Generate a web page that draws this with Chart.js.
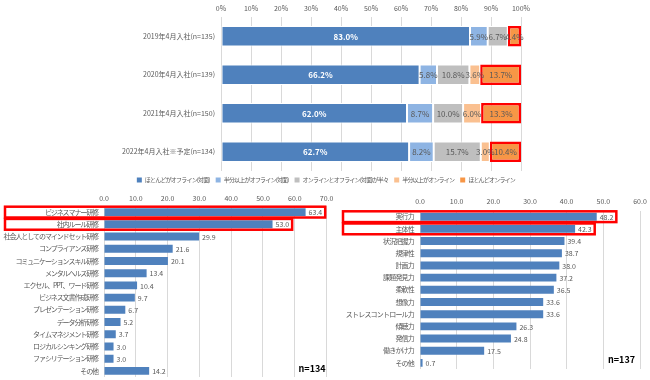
<!DOCTYPE html>
<html>
<head>
<meta charset="utf-8">
<script src="https://cdn.jsdelivr.net/npm/chart.js@4.4.1/dist/chart.umd.min.js"></script>
<style>
  body { margin: 0; background: #fff; }
  #wrap { position: relative; width: 650px; height: 380px; overflow: hidden; }
  canvas { position: absolute; }
</style>
</head>
<body>
<div id="wrap">
  <canvas id="styleChart" width="650" height="193" style="left:0;top:0;"></canvas>
  <canvas id="trainingChart" width="335" height="190" style="left:0;top:190px;"></canvas>
  <canvas id="skillChart" width="315" height="190" style="left:335px;top:190px;"></canvas>
</div>
<script>
// top: how training was held, by year of joining (%)
const years = ['2019年4月入社(n=135)', '2020年4月入社(n=139)', '2021年4月入社(n=150)', '2022年4月入社※予定(n=134)'];
const styleNames = ['ほとんどがオフライン(対面)', '半分以上がオフライン(対面)', 'オンラインとオフライン(対面)が半々', '半分以上がオンライン', 'ほとんどオンライン'];
const mostlyOffline = [83.0, 66.2, 62.0, 62.7];
const halfOffline = [5.9, 5.8, 8.7, 8.2];
const halfHalf = [6.7, 10.8, 10.0, 15.7];
const halfOnline = [0, 3.6, 6.0, 3.0];
const mostlyOnline = [4.4, 13.7, 13.3, 10.4];

// bottom left: training contents (%), n=134
const trainings = ['ビジネスマナー研修', '社内ルール研修', '社会人としてのマインドセット研修', 'コンプライアンス研修',
  'コミュニケーションスキル研修', 'メンタルヘルス研修', 'エクセル、PPT、ワード研修', 'ビジネス文書作成研修',
  'プレゼンテーション研修', 'データ分析研修', 'タイムマネジメント研修', 'ロジカルシンキング研修',
  'ファシリテーション研修', 'その他'];
const trainingValues = [63.4, 53.0, 29.9, 21.6, 20.1, 13.4, 10.4, 9.7, 6.7, 5.2, 3.7, 3.0, 3.0, 14.2];

// bottom right: skills (%), n=137
const skills = ['実行力', '主体性', '状況把握力', '規律性', '計画力', '課題発見力', '柔軟性', '想像力',
  'ストレスコントロール力', '傾聴力', '発信力', '働きかけ力', 'その他'];
const skillValues = [48.2, 42.3, 39.4, 38.7, 38.0, 37.2, 36.5, 33.6, 33.6, 26.3, 24.8, 17.5, 0.7];

const highlightRows = [0, 1];

const FONT = '"Noto Sans CJK JP", sans-serif';
const GREY = '#595959';
const GRID = '#d9d9d9';
Chart.defaults.font.family = FONT;
Chart.defaults.font.size = 7;
Chart.defaults.color = GREY;

// the original uses narrow kana, so squeeze some text a bit.
// anything on layer z=1 is drawn after the spacing is reset
const tightText = {
  id: 'tightText',
  beforeLayout(chart, args, opts) { chart.ctx.letterSpacing = opts.spacing; },
  beforeDraw(chart, args, opts) { chart.ctx.letterSpacing = opts.spacing; },
  beforeDatasetsDraw(chart) { chart.ctx.letterSpacing = '0px'; }
};

const segmentLabels = {
  id: 'segmentLabels',
  afterDatasetsDraw(chart) {
    const ctx = chart.ctx;
    ctx.save();
    ctx.textAlign = 'center';
    ctx.textBaseline = 'middle';
    chart.data.datasets.forEach((ds, i) => {
      chart.getDatasetMeta(i).data.forEach((bar, j) => {
        const v = ds.data[j];
        if (!v) return;
        ctx.fillStyle = i === 0 ? '#fff' : GREY;
        ctx.font = (i === 0 ? 'bold ' : '') + '8px ' + FONT;
        ctx.fillText(v.toFixed(1) + '%', (bar.x + bar.base) / 2, bar.y + 0.5);
      });
    });
    ctx.restore();
  }
};

const rowNotes = {
  id: 'rowNotes',
  afterDatasetsDraw(chart, args, opts) {
    const { ctx, chartArea, scales: { y } } = chart;
    const ds = chart.data.datasets[0];
    const meta = chart.getDatasetMeta(0);
    const step = y.height / chart.data.labels.length;
    ctx.save();
    ctx.font = '7px ' + FONT;
    ctx.fillStyle = GREY;
    ctx.textAlign = 'left';
    ctx.textBaseline = 'middle';
    meta.data.forEach((bar, j) => {
      ctx.fillText(ds.data[j].toFixed(1), bar.x + 3, bar.y + 0.5);
    });
    ctx.strokeStyle = '#ff0000';
    ctx.lineWidth = 2.5;
    opts.rows.forEach(r => {
      const bar = meta.data[r];
      const right = bar.x + 3 + ctx.measureText(ds.data[r].toFixed(1)).width + 3;
      ctx.strokeRect(opts.boxLeft, bar.y - step / 2 + 0.7, right - opts.boxLeft, step - 1.4);
    });
    ctx.font = 'bold 9px ' + FONT;
    ctx.fillStyle = '#000';
    ctx.textAlign = 'right';
    ctx.fillText(opts.note, chartArea.right - opts.noteDx, chartArea.bottom - opts.noteDy);
    ctx.restore();
  }
};

// fixed label column width; drop the half-label padding Chart.js adds top and bottom
function labelColumn(width) {
  return s => { s.width = width; s.paddingTop = 0; s.paddingBottom = 0; };
}

new Chart(document.getElementById('styleChart'), {
  type: 'bar',
  data: {
    labels: years,
    datasets: [
      { label: styleNames[0], data: mostlyOffline, backgroundColor: '#4f81bd', borderColor: '#fff', borderWidth: 1 },
      { label: styleNames[1], data: halfOffline, backgroundColor: '#8eb4e3', borderColor: '#fff', borderWidth: 1 },
      { label: styleNames[2], data: halfHalf, backgroundColor: '#bfbfbf', borderColor: '#fff', borderWidth: 1 },
      { label: styleNames[3], data: halfOnline, backgroundColor: '#fac090', borderColor: '#fff', borderWidth: 1 },
      { label: styleNames[4], data: mostlyOnline, backgroundColor: '#f79646', borderColor: '#ff0000', borderWidth: 2.5 }
    ]
  },
  options: {
    indexAxis: 'y',
    responsive: false,
    animation: false,
    layout: { padding: { top: 0, right: 129, left: 0, bottom: 0 } },
    datasets: { bar: { barPercentage: 0.53, categoryPercentage: 1, borderSkipped: false } },
    scales: {
      x: {
        stacked: true, position: 'top', min: 0, max: 100,
        ticks: { stepSize: 10, padding: 4.3, z: 1, callback: v => v + '%' },
        grid: { color: GRID, drawTicks: false },
        border: { display: false }
      },
      y: {
        stacked: true,
        ticks: { padding: 6, z: 1 },
        grid: { display: false, drawTicks: false },
        border: { display: false },
        afterFit: labelColumn(221)
      }
    },
    plugins: {
      legend: {
        position: 'bottom',
        align: 'end',
        labels: {
          boxWidth: 5, boxHeight: 5, padding: 6, font: { size: 6 },
          generateLabels: chart => chart.data.datasets.map((ds, i) => ({
            text: ds.label, fillStyle: ds.backgroundColor, strokeStyle: ds.backgroundColor,
            lineWidth: 0, fontColor: GREY, hidden: false, datasetIndex: i
          }))
        }
      },
      tooltip: { enabled: false },
      tightText: { spacing: '-0.8px' }
    }
  },
  plugins: [tightText, segmentLabels]
});

function rankChart(id, labels, values, max, pad, tickPad, plotLeft, box, note, dx, dy, spacing) {
  return new Chart(document.getElementById(id), {
    type: 'bar',
    data: {
      labels: labels,
      datasets: [{ data: values, backgroundColor: '#4f81bd', barPercentage: 0.65, categoryPercentage: 1 }]
    },
    options: {
      indexAxis: 'y',
      responsive: false,
      animation: false,
      layout: { padding: pad },
      scales: {
        x: {
          position: 'top', min: 0, max: max,
          ticks: { stepSize: 10, padding: tickPad, z: 1, callback: v => v.toFixed(1) },
          grid: { color: GRID, drawTicks: false },
          border: { display: false }
        },
        y: {
          ticks: { padding: 6 },
          grid: { display: false, drawTicks: false },
          border: { display: false },
          afterFit: labelColumn(plotLeft - pad.left)
        }
      },
      plugins: {
        legend: { display: false },
        tooltip: { enabled: false },
        tightText: { spacing: spacing },
        rowNotes: { rows: highlightRows, boxLeft: box, note: note, noteDx: dx, noteDy: dy }
      }
    },
    plugins: [tightText, rowNotes]
  });
}

rankChart('trainingChart', trainings, trainingValues, 70,
  { top: 0, right: 5, left: 0, bottom: 3 }, 3.8, 104, 5, 'n=134', 1, 8, '-1.1px');
rankChart('skillChart', skills, skillValues, 60,
  { top: 2.8, right: 10, left: 0, bottom: 11 }, 4.7, 85, 8, 'n=137', 5, 9, '-0.8px');
</script>
</body>
</html>
